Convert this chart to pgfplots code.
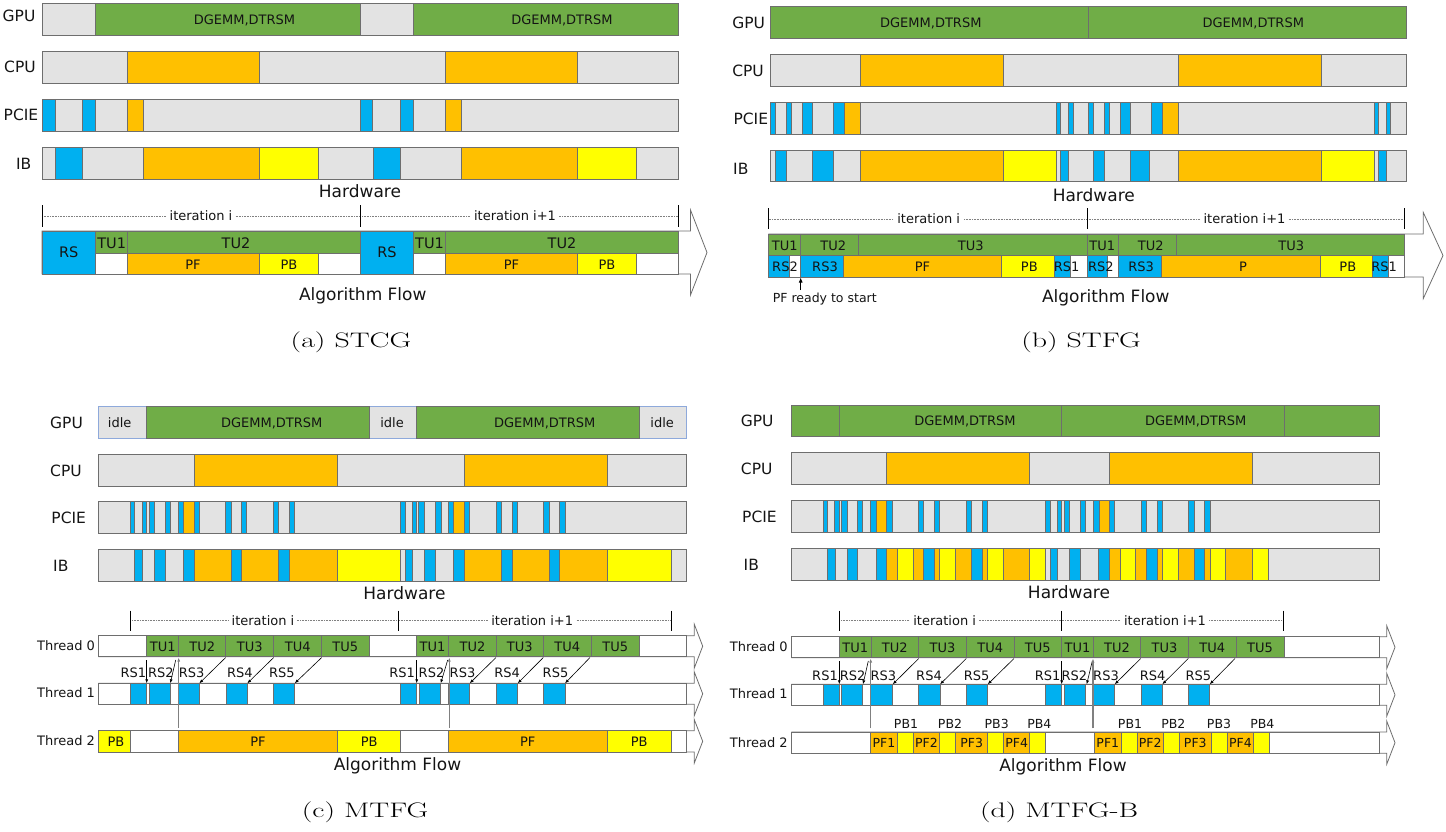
\documentclass[border=0pt]{standalone}
\usepackage{pgfplots}
\pgfplotsset{compat=1.18}
\usepackage{fontspec}
\usetikzlibrary{arrows.meta}
\newfontfamily\dv{DejaVu Sans}
\definecolor{cgrey}{HTML}{E3E3E3}
\definecolor{cgreen}{HTML}{70AD47}
\definecolor{cgold}{HTML}{FFC000}
\definecolor{cblue}{HTML}{00B0F0}
\definecolor{cyel}{HTML}{FFFF00}
\definecolor{edge}{HTML}{6E6E6E}
\definecolor{gpub}{HTML}{8EA9DB}
\definecolor{txt}{HTML}{141414}
\newcommand{\rowy}[2]{\def\ya{#1}\def\yb{#2}}
\newcommand{\B}[3]{\edef\tmp{\noexpand\addplot[fill=#3,draw=edge,line width=0.8pt] coordinates {(#1,\ya) (#2,\ya) (#2,\yb) (#1,\yb)} -- cycle;}\tmp}
\newcommand{\Bc}[4]{\edef\tmp{\noexpand\addplot[fill=#3,draw=#4,line width=0.8pt] coordinates {(#1,\ya) (#2,\ya) (#2,\yb) (#1,\yb)} -- cycle;}\tmp}
\newcommand{\T}[4][lab]{\node[#1] at (axis cs:#2,#3) {#4};}
\newcommand{\Ar}[4]{\addplot[-{Latex[length=4pt,width=3pt]},line width=0.6pt,color=black] coordinates {(#1,#2) (#3,#4)};}
\newcommand{\Up}[3]{\addplot[-{Latex[length=4pt,width=3pt]},line width=1.1pt,color=gray] coordinates {(#1,#2) (#1,#3)};}
\newcommand{\Tick}[3]{\addplot[black,line width=1pt] coordinates {(#1,#2) (#1,#3)};}
\tikzset{
 lab/.style={font=\dv\fontsize{13}{15}\selectfont, text=txt, inner sep=0pt, text height=9.5pt, text depth=0pt},
 l14/.style={font=\dv\fontsize{14.5}{17}\selectfont, text=txt, inner sep=0pt, text height=10.6pt, text depth=0pt},
 lsm/.style={font=\dv\fontsize{12.5}{15}\selectfont, text=txt, inner sep=0pt, text height=9.1pt, text depth=0pt},
 rlab/.style={font=\dv\fontsize{15.5}{18}\selectfont, text=txt, inner sep=0pt, text height=11.3pt, text depth=0pt},
 big/.style={font=\dv\fontsize{17}{20}\selectfont, text=txt, inner sep=0pt, text height=12.4pt, text depth=0pt},
 it/.style={lab, fill=white, inner xsep=3pt, inner ysep=1pt},
 capt/.style={font=\fontsize{21}{25}\selectfont, inner sep=0pt, xscale=1.42},
}
\begin{document}
\begin{tikzpicture}
\begin{axis}[width=1446pt,height=831pt,scale only axis,xmin=0,xmax=1446,ymin=0,ymax=831,y dir=reverse,hide axis,clip=false]
\addplot[draw=none] coordinates {(0,0) (1446,0) (1446,831) (0,831)};
% ================= (a) STCG =================
\rowy{3}{35}
\B{42}{95.7}{cgrey}\B{95.7}{360.3}{cgreen}\B{360.3}{413.3}{cgrey}\B{413.3}{678}{cgreen}
\rowy{51}{83}
\B{42}{678}{cgrey}\B{127.7}{259.7}{cgold}\B{445.3}{577.7}{cgold}
\rowy{99}{131}
\B{42}{678}{cgrey}\B{42}{55}{cblue}\B{82.7}{95.7}{cblue}\B{127.7}{143.3}{cgold}\B{360.3}{372.7}{cblue}\B{400.3}{413.3}{cblue}\B{445.3}{461}{cgold}
\rowy{147}{179}
\B{42}{678}{cgrey}\B{55}{82.7}{cblue}\B{143.3}{259.7}{cgold}\B{259.7}{318.7}{cyel}\B{373.3}{400.3}{cblue}\B{461}{577.7}{cgold}\B{577.7}{636.3}{cyel}
\addplot[densely dotted,gray,line width=0.6pt] coordinates {(42,216) (678,216)};
\Tick{42}{205}{227}\Tick{360.3}{205}{227}\Tick{678}{205}{227}
\addplot[fill=white,draw=edge,line width=0.8pt] coordinates {(42,231) (690.5,231) (690.5,210) (707,252.5) (690.5,295) (690.5,274) (42,274)} -- cycle;
\rowy{231}{274}
\B{42}{95.7}{cblue}\B{360.3}{413.3}{cblue}
\rowy{231}{253}
\B{95.7}{127.7}{cgreen}\B{127.7}{360.3}{cgreen}\B{413.3}{445.3}{cgreen}\B{445.3}{678}{cgreen}
\rowy{253}{274}
\B{95.7}{127.7}{white}\B{127.7}{259.7}{cgold}\B{259.7}{318.3}{cyel}\B{318.3}{360.3}{white}
\B{413.3}{445.3}{white}\B{445.3}{577.7}{cgold}\B{577.7}{636.3}{cyel}\B{636.3}{678}{white}
\T[rlab]{19}{16}{GPU}\T[rlab]{20}{67}{CPU}\T[rlab]{21}{115.3}{PCIE}\T[rlab]{23.7}{164}{IB}
\T{244.5}{19.3}{DGEMM,DTRSM}\T{562}{19.3}{DGEMM,DTRSM}
\T[big]{360}{191}{Hardware}
\T[it]{201}{216}{iteration i}\T[it]{515}{216}{iteration i+1}
\T[l14]{68.8}{252}{RS}\T[l14]{111.7}{242.8}{TU1}\T[l14]{236}{242.8}{TU2}
\T[lab]{193}{264.3}{PF}\T[lab]{289}{264.3}{PB}
\T[l14]{387}{252}{RS}\T[l14]{429.5}{242.8}{TU1}\T[l14]{562}{242.8}{TU2}
\T[lab]{511.5}{264.3}{PF}\T[lab]{607}{264.3}{PB}
\T[big]{362.8}{294}{Algorithm Flow}
\T[capt]{351}{342}{(a) STCG}
% ================= (b) STFG =================
\rowy{6}{38.3}
\B{770}{1088}{cgreen}\B{1088}{1406}{cgreen}
\rowy{54}{86}
\B{770}{1406}{cgrey}\B{860.3}{1003.3}{cgold}\B{1178.3}{1321.3}{cgold}
\rowy{102}{134}
\B{770}{1406}{cgrey}\B{770}{775.7}{cblue}\B{786.3}{791.7}{cblue}\B{802}{812.7}{cblue}\B{833.7}{844.7}{cblue}\B{844.7}{860.3}{cgold}
\B{1056}{1060.5}{cblue}\B{1068}{1073}{cblue}
\B{1088.3}{1093.7}{cblue}\B{1104}{1109.7}{cblue}\B{1120}{1130.7}{cblue}\B{1151.7}{1162.3}{cblue}\B{1162.3}{1178.3}{cgold}
\B{1374.3}{1378.7}{cblue}\B{1386}{1390.3}{cblue}
\rowy{150}{181.7}
\B{770}{1406}{cgrey}\B{775.7}{786.3}{cblue}\B{812.3}{833.7}{cblue}\B{860.3}{1003.3}{cgold}\B{1003.3}{1056.3}{cyel}\B{1060}{1068}{cblue}
\B{1093.3}{1104.3}{cblue}\B{1130.7}{1149.7}{cblue}\B{1178.3}{1321.3}{cgold}\B{1321.3}{1374.3}{cyel}\B{1378.3}{1386}{cblue}
\addplot[densely dotted,gray,line width=0.6pt] coordinates {(768.7,219) (1404.7,219)};
\Tick{768.7}{208.3}{229.3}\Tick{1087}{208.3}{229.3}\Tick{1404.7}{208.3}{229.3}
\addplot[fill=white,draw=edge,line width=0.8pt] coordinates {(768.7,234) (1423.3,234) (1423.3,212.5) (1443,255.5) (1423.3,298.5) (1423.3,277) (768.7,277)} -- cycle;
\rowy{234}{255.7}
\B{768.7}{800.7}{cgreen}\B{800.7}{858.7}{cgreen}\B{858.7}{1087}{cgreen}\B{1087}{1118.3}{cgreen}\B{1118.3}{1176.3}{cgreen}\B{1176.3}{1404.3}{cgreen}
\rowy{255.7}{277}
\B{768.7}{1404.3}{white}
\B{768.7}{789.7}{cblue}\B{800.7}{843.3}{cblue}\B{843.3}{1001.7}{cgold}\B{1001.7}{1054}{cyel}\B{1054}{1070}{cblue}
\B{1087}{1107.7}{cblue}\B{1118.3}{1161}{cblue}\B{1161}{1320}{cgold}\B{1320}{1372.7}{cyel}\B{1372.7}{1388.7}{cblue}
\addplot[-{Latex[length=5pt,width=4pt]},line width=0.8pt,color=black] coordinates {(800.7,290) (800.7,277.5)};
\T[rlab]{748.7}{23.3}{GPU}\T[rlab]{748}{70.8}{CPU}\T[rlab]{750.8}{119}{PCIE}\T[rlab]{740.8}{169}{IB}
\T{930.8}{22.3}{DGEMM,DTRSM}\T{1253.3}{22.3}{DGEMM,DTRSM}
\T[big]{1093.8}{195}{Hardware}
\T[it]{928.7}{219}{iteration i}\T[it]{1244.5}{219}{iteration i+1}
\T[lab]{784.7}{245.7}{TU1}\T[lab]{833.3}{245.7}{TU2}\T[lab]{970.7}{245.7}{TU3}
\T[lab]{1102.3}{245.7}{TU1}\T[lab]{1150.8}{245.7}{TU2}\T[lab]{1291.2}{245.7}{TU3}
\T[lab]{785}{266.7}{RS2}\T[lab]{825}{266.7}{RS3}\T[lab]{922.5}{266.7}{PF}\T[lab]{1029.3}{266.7}{PB}\T[lab]{1066.7}{266.7}{RS1}
\T[lab]{1100.8}{266.7}{RS2}\T[lab]{1141.2}{266.7}{RS3}\T[lab]{1243}{266.7}{P}\T[lab]{1347.8}{266.7}{PB}\T[lab]{1384.2}{266.7}{RS1}
\T[lsm]{824.8}{298.3}{PF ready to start}
\T[big]{1105.8}{295.8}{Algorithm Flow}
\T[capt]{1081}{342}{(b) STFG}
% ================= (c) MTFG =================
\rowy{406.7}{438.3}
\Bc{98.7}{686.7}{cgrey}{gpub}\B{146.7}{369}{cgreen}\B{416.3}{639.3}{cgreen}
\rowy{454.3}{486}
\B{98.7}{686.7}{cgrey}\B{194.3}{337.7}{cgold}\B{464.3}{607.3}{cgold}
\rowy{501.7}{533}
\B{98.7}{686.7}{cgrey}
\B{130.3}{134.7}{cblue}\B{142}{146.3}{cblue}\B{149}{154.3}{cblue}\B{165}{170.3}{cblue}\B{178}{183.7}{cblue}\B{183.7}{194.3}{cgold}\B{194.3}{199.3}{cblue}
\B{225.7}{231}{cblue}\B{241}{246.7}{cblue}\B{273}{278.3}{cblue}\B{289}{294.7}{cblue}
\B{400}{405.3}{cblue}\B{412}{416.7}{cblue}\B{418.3}{424}{cblue}\B{435.3}{441}{cblue}\B{448}{453.7}{cblue}\B{453.7}{464.3}{cgold}\B{464.3}{469.3}{cblue}
\B{496}{501.3}{cblue}\B{512}{517.7}{cblue}\B{543.7}{549}{cblue}\B{559.3}{565}{cblue}
\rowy{549.3}{581}
\B{98.7}{686.7}{cgrey}
\B{134.3}{142.3}{cblue}\B{154.7}{165}{cblue}\B{183.7}{194.3}{cblue}\B{194.3}{231.3}{cgold}\B{231.3}{241.7}{cblue}\B{241.7}{278.7}{cgold}\B{278.7}{289.3}{cblue}\B{289.3}{337.7}{cgold}\B{337.7}{400.7}{cyel}
\B{405.3}{412.3}{cblue}\B{424}{435.7}{cblue}\B{453}{464.3}{cblue}\B{464.3}{501.3}{cgold}\B{501.3}{512.3}{cblue}\B{512.3}{549}{cgold}\B{549}{559.7}{cblue}\B{559.7}{607.3}{cgold}\B{607.3}{671}{cyel}
\addplot[densely dotted,gray,line width=0.6pt] coordinates {(130.3,620.7) (671,620.7)};
\Tick{130.3}{610.7}{630.7}\Tick{398.3}{610.7}{630.7}\Tick{671}{610.7}{630.7}
\addplot[fill=white,draw=edge,line width=0.8pt] coordinates {(98.7,635.7) (694.3,635.7) (694.3,624.3) (702.7,646.2) (694.3,668) (694.3,656.7) (98.7,656.7)} -- cycle;
\addplot[fill=white,draw=edge,line width=0.8pt] coordinates {(98.7,683.3) (694.3,683.3) (694.3,672) (702.7,693.8) (694.3,715.6) (694.3,704.3) (98.7,704.3)} -- cycle;
\addplot[fill=white,draw=edge,line width=0.8pt] coordinates {(98.7,730.7) (694.3,730.7) (694.3,719.7) (702.7,741.3) (694.3,763) (694.3,752) (98.7,752)} -- cycle;
\rowy{635.7}{656.7}
\B{98.7}{686.3}{white}
\B{146.7}{178.7}{cgreen}\B{178.7}{225.7}{cgreen}\B{225.7}{273.7}{cgreen}\B{273.7}{321.7}{cgreen}\B{321.7}{369}{cgreen}
\B{416.3}{448.7}{cgreen}\B{448.7}{496.3}{cgreen}\B{496.3}{543.3}{cgreen}\B{543.3}{591.3}{cgreen}\B{591.3}{639.3}{cgreen}
\rowy{683.3}{704.3}
\B{98.7}{686.3}{white}
\B{130.3}{146.7}{cblue}\B{149.3}{170.3}{cblue}\B{178.7}{199.3}{cblue}\B{226}{247.3}{cblue}\B{273.7}{294.7}{cblue}
\B{400.3}{416.3}{cblue}\B{419}{440.7}{cblue}\B{448.3}{469.7}{cblue}\B{496.3}{517.7}{cblue}\B{543.7}{565}{cblue}
\rowy{730.7}{752}
\B{98.7}{686.3}{white}
\B{98.7}{130.3}{cyel}\B{178.3}{337.7}{cgold}\B{337.7}{400.7}{cyel}\B{448.3}{607.3}{cgold}\B{607.3}{671}{cyel}
\Ar{146.7}{660}{146.7}{683.3}\Ar{175.7}{660}{170.3}{683.3}\Ar{225.7}{657.5}{199.3}{683.3}\Ar{273.7}{657.5}{247.3}{683.3}\Ar{321.7}{657.5}{294.7}{683.3}
\Ar{416.7}{660}{416.7}{683.3}\Ar{447.7}{660}{440.7}{683.3}\Ar{496}{657.5}{469.7}{683.3}\Ar{543.3}{657.5}{517.7}{683.3}\Ar{590}{657.5}{565}{683.3}
\Up{178.7}{727.7}{657.5}\Up{449.3}{727.7}{657.5}
\T[rlab]{66.5}{423}{GPU}\T[rlab]{66}{470.8}{CPU}\T[rlab]{68.7}{517.5}{PCIE}\T[rlab]{60.8}{565.8}{IB}
\T{119.7}{423}{idle}\T{271.7}{423}{DGEMM,DTRSM}\T{392}{423}{idle}\T{544.7}{423}{DGEMM,DTRSM}\T{662.2}{423}{idle}
\T[big]{404.5}{592.8}{Hardware}
\T[it]{263}{620.7}{iteration i}\T[it]{532.2}{620.7}{iteration i+1}
\T{162.7}{646.3}{TU1}\T{202.2}{646.3}{TU2}\T{249.7}{646.3}{TU3}\T{297.7}{646.3}{TU4}\T{345.3}{646.3}{TU5}
\T{432.5}{646.3}{TU1}\T{472.5}{646.3}{TU2}\T{519.8}{646.3}{TU3}\T{567.3}{646.3}{TU4}\T{615.3}{646.3}{TU5}
\T{133.3}{672.7}{RS1}\T{160.8}{672.7}{RS2}\T{191.7}{672.7}{RS3}\T{239.8}{672.7}{RS4}\T{281.8}{672.7}{RS5}
\T{402.2}{672.7}{RS1}\T{431.5}{672.7}{RS2}\T{462.5}{672.7}{RS3}\T{507.2}{672.7}{RS4}\T{555.5}{672.7}{RS5}
\T{116}{742}{PB}\T{258}{742}{PF}\T{369.2}{742}{PB}\T{527.8}{742}{PF}\T{639.2}{742}{PB}
\T{66}{645.3}{Thread 0}\T{66}{692.8}{Thread 1}\T{66}{740.5}{Thread 2}
\T[big]{397.5}{764.2}{Algorithm Flow}
\T[capt]{365}{812}{(c) MTFG}
% ================= (d) MTFG-B =================
\rowy{405}{436.7}
\B{791.7}{839.3}{cgreen}\B{839.3}{1061.7}{cgreen}\B{1061.7}{1284.3}{cgreen}\B{1284.3}{1379.3}{cgreen}
\rowy{452.7}{484.3}
\B{791.7}{1379.3}{cgrey}\B{886.7}{1029.7}{cgold}\B{1109.3}{1252.3}{cgold}
\rowy{500.7}{532.3}
\B{791.7}{1379.3}{cgrey}
\B{823}{827.7}{cblue}\B{834.7}{839}{cblue}\B{841.3}{847}{cblue}\B{857.7}{862.7}{cblue}\B{870.7}{876.3}{cblue}\B{876.3}{886.7}{cgold}\B{886.7}{892}{cblue}
\B{918.7}{923.7}{cblue}\B{934.3}{939.7}{cblue}\B{966.3}{971.7}{cblue}\B{982.3}{987.7}{cblue}
\B{1045.7}{1050}{cblue}\B{1057.3}{1061.7}{cblue}\B{1064}{1069.7}{cblue}\B{1080.3}{1085.7}{cblue}\B{1093.3}{1099}{cblue}\B{1099}{1109.3}{cgold}\B{1109.3}{1114.7}{cblue}
\B{1141.3}{1146.7}{cblue}\B{1157}{1162.7}{cblue}\B{1188.7}{1194.3}{cblue}\B{1204.3}{1210}{cblue}
\rowy{548.3}{580}
\B{791.7}{1379.3}{cgrey}
\B{827}{835}{cblue}\B{847}{857.7}{cblue}\B{876.3}{886.7}{cblue}\B{886.7}{897.3}{cgold}\B{897.3}{913.3}{cyel}\B{913.3}{923.7}{cgold}\B{923.7}{934.3}{cblue}\B{934.3}{939.7}{cgold}\B{939.7}{955.7}{cyel}\B{955.7}{971.7}{cgold}\B{971.7}{982.3}{cblue}\B{982.3}{987.7}{cgold}\B{987.7}{1003.7}{cyel}\B{1003.7}{1029.7}{cgold}\B{1029.7}{1045.7}{cyel}
\B{1050}{1057.3}{cblue}\B{1069.7}{1080.3}{cblue}\B{1098.7}{1109.3}{cblue}\B{1109.3}{1120}{cgold}\B{1120}{1135.7}{cyel}\B{1135.7}{1146.7}{cgold}\B{1146.7}{1157.3}{cblue}\B{1157.3}{1162.7}{cgold}\B{1162.7}{1178.7}{cyel}\B{1178.7}{1194.3}{cgold}\B{1194.3}{1204.7}{cblue}\B{1204.7}{1210}{cgold}\B{1210}{1225.7}{cyel}\B{1225.7}{1252.3}{cgold}\B{1252.3}{1268.3}{cyel}
\addplot[densely dotted,gray,line width=0.6pt] coordinates {(839.3,620.7) (1283.3,620.7)};
\Tick{839.3}{610.7}{630.7}\Tick{1061.7}{610.7}{630.7}\Tick{1283.3}{610.7}{630.7}
\addplot[fill=white,draw=edge,line width=0.8pt] coordinates {(791.7,636.7) (1386.7,636.7) (1386.7,625.7) (1395,647.2) (1386.7,668.7) (1386.7,657.7) (791.7,657.7)} -- cycle;
\addplot[fill=white,draw=edge,line width=0.8pt] coordinates {(791.7,684.3) (1386.7,684.3) (1386.7,673.3) (1395,694.8) (1386.7,716.3) (1386.7,705.3) (791.7,705.3)} -- cycle;
\addplot[fill=white,draw=edge,line width=0.8pt] coordinates {(791.7,732) (1386.7,732) (1386.7,721) (1395,742.7) (1386.7,764.3) (1386.7,753.3) (791.7,753.3)} -- cycle;
\rowy{636.7}{657.7}
\B{791.7}{1379.3}{white}
\B{839.3}{871}{cgreen}\B{871}{918.7}{cgreen}\B{918.7}{966.3}{cgreen}\B{966.3}{1014}{cgreen}\B{1014}{1061.7}{cgreen}
\B{1061.7}{1093.3}{cgreen}\B{1093.3}{1140.7}{cgreen}\B{1140.7}{1188.3}{cgreen}\B{1188.3}{1236}{cgreen}\B{1236}{1284}{cgreen}
\rowy{684.3}{705.3}
\B{791.7}{1379.3}{white}
\B{823}{839.3}{cblue}\B{841.3}{862.7}{cblue}\B{870.7}{892}{cblue}\B{918.7}{940}{cblue}\B{966.3}{987.7}{cblue}
\B{1045.7}{1061.7}{cblue}\B{1064}{1085.3}{cblue}\B{1093.3}{1114.7}{cblue}\B{1141}{1162.3}{cblue}\B{1188.3}{1209.7}{cblue}
\rowy{732}{753.3}
\B{791.7}{1379.3}{white}
\B{870.7}{897.3}{cgold}\B{897.3}{913.3}{cyel}\B{913.3}{939.7}{cgold}\B{939.7}{955.7}{cyel}\B{955.7}{987.7}{cgold}\B{987.7}{1003.7}{cyel}\B{1003.7}{1029.7}{cgold}\B{1029.7}{1045.7}{cyel}
\B{1094.7}{1121}{cgold}\B{1121}{1137}{cyel}\B{1137}{1163.3}{cgold}\B{1163.3}{1179.3}{cyel}\B{1179.3}{1211.3}{cgold}\B{1211.3}{1227.3}{cyel}\B{1227.3}{1253.7}{cgold}\B{1253.7}{1269.7}{cyel}
\Ar{839.3}{661}{839.3}{684.3}\Ar{868.3}{661}{863}{684.3}\Ar{918.7}{658.5}{892.7}{684.3}\Ar{966.3}{658.5}{940}{684.3}\Ar{1014}{658.5}{987.7}{684.3}
\Ar{1061.7}{661}{1061.7}{684.3}\Ar{1092.3}{661}{1086.7}{684.3}\Ar{1140.7}{658.5}{1114.7}{684.3}\Ar{1188.3}{658.5}{1162.3}{684.3}\Ar{1235}{658.5}{1209.7}{684.3}
\Up{870.7}{728.3}{658.5}\Up{1093}{728.3}{658.5}
\T[rlab]{757.2}{420.8}{GPU}\T[rlab]{756.7}{469.2}{CPU}\T[rlab]{759.5}{516.8}{PCIE}\T[rlab]{751.3}{564.8}{IB}
\T{965}{421.2}{DGEMM,DTRSM}\T{1195.7}{421.2}{DGEMM,DTRSM}
\T[big]{1069}{592.3}{Hardware}
\T[it]{944.7}{620.7}{iteration i}\T[it]{1165}{620.7}{iteration i+1}
\T{855.2}{647.8}{TU1}\T{894.8}{647.8}{TU2}\T{942.5}{647.8}{TU3}\T{990.2}{647.8}{TU4}\T{1037.8}{647.8}{TU5}
\T{1077.5}{647.8}{TU1}\T{1117}{647.8}{TU2}\T{1164.5}{647.8}{TU3}\T{1212.2}{647.8}{TU4}\T{1260}{647.8}{TU5}
\T{825}{675.3}{RS1}\T{852.7}{675.3}{RS2}\T{883.3}{675.3}{RS3}\T{929}{675.3}{RS4}\T{976.7}{675.3}{RS5}
\T{1047.7}{675.3}{RS1}\T{1074.3}{675.3}{RS2}\T{1106}{675.3}{RS3}\T{1152.7}{675.3}{RS4}\T{1198.3}{675.3}{RS5}
\T[lsm]{906}{724.3}{PB1}\T[lsm]{950}{724.3}{PB2}\T[lsm]{996.7}{724.3}{PB3}\T[lsm]{1039.3}{724.3}{PB4}
\T[lsm]{1130}{724.3}{PB1}\T[lsm]{1173.3}{724.3}{PB2}\T[lsm]{1219}{724.3}{PB3}\T[lsm]{1262.3}{724.3}{PB4}
\T[lsm]{884}{743}{PF1}\T[lsm]{926.5}{743}{PF2}\T[lsm]{971.7}{743}{PF3}\T[lsm]{1016.7}{743}{PF4}
\T[lsm]{1107.8}{743}{PF1}\T[lsm]{1150.2}{743}{PF2}\T[lsm]{1195.3}{743}{PF3}\T[lsm]{1240.5}{743}{PF4}
\T{758.8}{646.3}{Thread 0}\T{758.8}{693.7}{Thread 1}\T{758.8}{742.8}{Thread 2}
\T[big]{1063}{765}{Algorithm Flow}
\T[capt]{1059}{812}{(d) MTFG-B}
\end{axis}
\end{tikzpicture}
\end{document}
